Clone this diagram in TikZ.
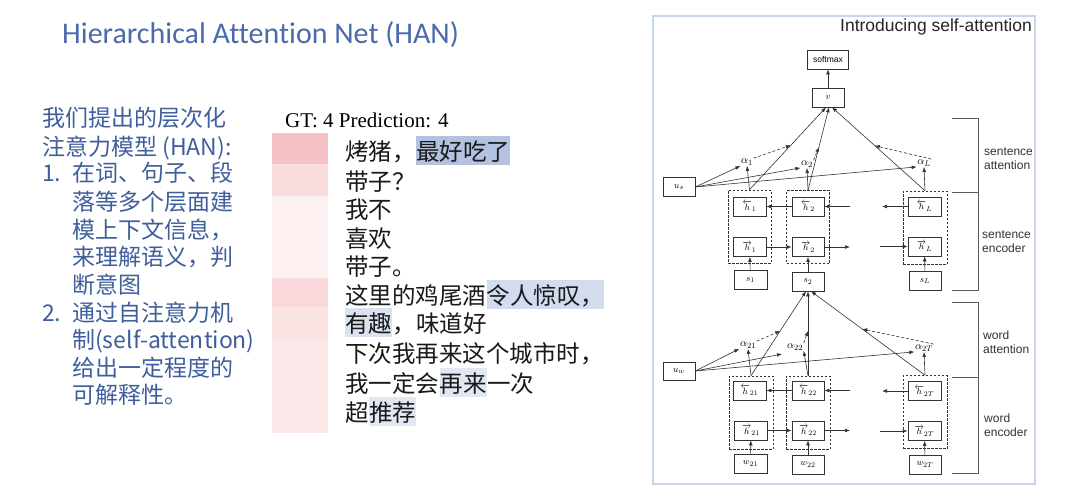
\documentclass[tikz,border=0pt]{standalone}
\usepackage{fontspec}
\setmainfont{Liberation Serif}
\newfontfamily\cjk{Noto Sans CJK SC}
\newfontfamily\carl[Ligatures=CommonOff]{Carlito}
\newfontfamily\lsans{Liberation Sans}
\usetikzlibrary{arrows.meta,calc}
\definecolor{dg}{HTML}{333333}
\definecolor{frm}{HTML}{C8D6EC}
\definecolor{tb}{HTML}{3F5E9C}
\definecolor{ttl}{HTML}{4A6AAA}
\definecolor{barA}{HTML}{F4C2C4}
\definecolor{barB}{HTML}{F9DCDD}
\definecolor{barC}{HTML}{FDF0F0}
\definecolor{barD}{HTML}{F8D8DA}
\definecolor{barE}{HTML}{FAE2E2}
\definecolor{barF}{HTML}{FBE7E7}
\definecolor{hlA}{HTML}{B3C2E0}
\definecolor{hlB}{HTML}{D3DBEF}
\definecolor{hlC}{HTML}{DAE1F1}
\definecolor{hlD}{HTML}{E2E7F4}
\begin{document}
\begin{tikzpicture}[x=1pt,y=-1pt,
  bx/.style={draw=dg, line width=0.6pt, minimum width=32pt, minimum height=19pt, inner sep=0pt, font=\fontsize{9.5}{10}\selectfont},
  grp/.style={draw=dg, dash pattern=on 2.5pt off 1.5pt, line width=0.6pt, minimum width=43pt, minimum height=73pt, inner sep=0pt},
  al/.style={inner sep=0.5pt, font=\fontsize{11}{12}\selectfont},
  arr/.style={draw=dg, line width=0.6pt, -{Latex[length=5pt,width=3.8pt]}},
  darr/.style={arr, dash pattern=on 3pt off 2pt},
  brk/.style={draw=black!65, line width=0.8pt},
  lab/.style={anchor=west, align=left, inner sep=0pt, font=\lsans\fontsize{12}{14}\selectfont, text=black!80},
  lt/.style={anchor=base west, inner sep=0pt, text=tb, font=\cjk\fontsize{23}{23}\selectfont},
  txt/.style={anchor=base west, inner sep=0pt, text=black!90, font=\cjk\fontsize{23.5}{24}\selectfont},
  hl/.style={txt, fill=#1, text height=23pt, text depth=4pt, inner ysep=1pt}
]
\useasboundingbox (0,0) rectangle (1080,501);
\fill[white] (0,0) rectangle (1080,501);

% title
\node[anchor=base west, inner sep=0pt, text=ttl, font=\carl\fontsize{30}{30}\selectfont] (title) at (62,43) {Hierarchical Attention Net (HAN)};

% left text
\node[lt] (l1) at (42,126.7) {我们提出的层次化};
\node[lt] (l2) at (42,155.7) {注意力模型 (HAN):};
\node[lt] (n1) at (42,181.7) {1.};
\node[lt] (l3) at (72,181.7) {在词、句子、段};
\node[lt] (l4) at (72,210.7) {落等多个层面建};
\node[lt] (l5) at (72,238.7) {模上下文信息，};
\node[lt] (l6) at (72,265.7) {来理解语义，判};
\node[lt] (l7) at (72,293.7) {断意图};
\node[lt] (n2) at (42,321.7) {2.};
\node[lt] (l8) at (72,321.7) {通过自注意力机};
\node[lt] (l9) at (72,348.7) {制(self-attention)};
\node[lt] (l10) at (72,376.7) {给出一定程度的};
\node[lt] (l11) at (72,403.7) {可解释性。};

% middle
\node[anchor=base west, inner sep=0pt, font=\fontsize{21}{21}\selectfont] (gt) at (285,127) {GT: 4 Prediction: 4};
\fill[barA] (272,133) rectangle (328,164);
\fill[barB] (272,164) rectangle (328,196);
\fill[barC] (272,196) rectangle (328,278);
\fill[barD] (272,278) rectangle (328,307);
\fill[barE] (272,307) rectangle (328,340);
\fill[barF] (272,340) rectangle (328,433);

\node[txt] (r1a) at (345,160) {烤猪，};
\node[hl=hlA] (r1b) at (r1a.base east) {最好吃了};
\node[txt] (r2) at (345,190) {带子？};
\node[txt] (r3) at (345,218) {我不};
\node[txt] (r4) at (345,247) {喜欢};
\node[txt] (r5) at (345,275) {带子。};
\node[txt] (r6a) at (345,304) {这里的鸡尾酒};
\node[hl=hlB] (r6b) at (r6a.base east) {令人惊叹，};
\node[hl=hlC] (r7a) at (345,332) {有趣};
\node[txt] (r7b) at (r7a.base east) {，味道好};
\node[txt] (r8) at (345,362) {下次我再来这个城市时，};
\node[txt] (r9a) at (345,392) {我一定会};
\node[hl=hlD] (r9b) at (r9a.base east) {再来};
\node[txt] (r9c) at (r9b.base east) {一次};
\node[txt] (r10a) at (345,421) {超};
\node[hl=hlD] (r10b) at (r10a.base east) {推荐};

% right panel frame
\draw[frm, line width=1.3pt] (653,16) rectangle (1035,484);
\node[anchor=base east, inner sep=0pt, font=\lsans\fontsize{17.5}{18}\selectfont, text=black!85] (intro) at (1032,31) {Introducing self-attention};

% ---- sentence level
\node[bx, minimum width=41pt, font=\lsans\fontsize{8.5}{9}\selectfont] (sm) at (828,59.5) {softmax};
\node[bx] (v) at (828,97.5) {$v$};
\node[bx] (us) at (679,187) {$u_s$};
\node[grp] (g1) at (749.5,226.5) {};
\node[grp] (g2) at (808,227) {};
\node[grp, minimum width=44pt] (gL) at (925,227.5) {};
\node[bx, minimum width=33pt] (hb1) at (749.5,206.5) {$\overleftarrow{h}_1$};
\node[bx, minimum width=33pt] (hf1) at (749.5,247) {$\overrightarrow{h}_1$};
\node[bx] (hb2) at (808,206.5) {$\overleftarrow{h}_2$};
\node[bx] (hf2) at (808,247) {$\overrightarrow{h}_2$};
\node[bx, minimum width=33pt] (hbL) at (924.5,206.5) {$\overleftarrow{h}_L$};
\node[bx, minimum width=33pt] (hfL) at (924.5,246.5) {$\overrightarrow{h}_L$};
\node[bx, minimum width=33pt] (s1) at (750.5,280) {$s_1$};
\node[bx] (s2) at (808,281.5) {$s_2$};
\node[bx] (sL) at (925,281) {$s_L$};
\node[al] (a1) at (747,162) {$\alpha_1$};
\node[al] (a2) at (807,164) {$\alpha_2$};
\node[al] (aL) at (924,163) {$\alpha_L$};

\coordinate (rb2) at (850,206.5);
\coordinate (lbL) at (882,206.5);
\coordinate (rf2) at (850,247);
\coordinate (lfL) at (880,246.5);

\draw[arr] (v) -- (sm);
\draw[arr] (g1.north) -- ([xshift=-2pt]v.south);
\draw[arr] (g2.north) -- ([xshift=1pt]v.south);
\draw[arr] (gL.north) -- ([xshift=4pt]v.south);
\coordinate (m1) at ($(g1.north)!0.54!([xshift=-2pt]v.south)$);
\coordinate (m2) at ($(g2.north)!0.52!([xshift=1pt]v.south)$);
\coordinate (mL) at ($(gL.north)!0.54!([xshift=4pt]v.south)$);
\draw[darr] (a1.north east) -- (m1);
\draw[darr] (a2.north east) -- (m2);
\draw[darr] (aL.north east) -- (mL);
\draw[arr] (g1.north) -- (a1.south);
\draw[arr] (g2.north) -- (a2.south);
\draw[arr] (gL.north) -- (aL.south);
\draw[arr] (us.east) -- (a1.south west);
\draw[arr] (us.east) -- (a2.south west);
\draw[arr] (us.east) -- (aL.south west);
\draw[arr] (hb2) -- (hb1);
\draw[arr] (rb2) -- (hb2);
\draw[arr] (hbL) -- (lbL);
\draw[arr] (hf1) -- (hf2);
\draw[arr] (hf2) -- (rf2);
\draw[arr] (lfL) -- (hfL);
\draw[arr] (s1) -- (hf1);
\draw[arr] (s2) -- (hf2);
\draw[arr] (sL) -- (hfL);

% ---- word level
\node[bx, minimum height=18pt] (uw) at (679,371) {$u_w$};
\node[grp, minimum width=44pt] (gw1) at (751,412.5) {};
\node[grp, minimum width=44pt] (gw2) at (808,412.5) {};
\node[grp, minimum width=44pt] (gwT) at (925,412) {};
\node[bx, minimum width=33pt] (hb21) at (749.5,390.5) {$\overleftarrow{h}_{21}$};
\node[bx, minimum width=33pt] (hf21) at (751,430.5) {$\overrightarrow{h}_{21}$};
\node[bx] (hb22) at (808,390.5) {$\overleftarrow{h}_{22}$};
\node[bx] (hf22) at (808,430.5) {$\overrightarrow{h}_{22}$};
\node[bx, minimum width=33pt] (hb2T) at (924.5,391) {$\overleftarrow{h}_{2T}$};
\node[bx, minimum width=33pt] (hf2T) at (924.5,431) {$\overrightarrow{h}_{2T}$};
\node[bx, minimum width=33pt] (w21) at (750.5,463.5) {$w_{21}$};
\node[bx] (w22) at (808,464.5) {$w_{22}$};
\node[bx] (w2T) at (925,464.5) {$w_{2T}$};
\node[al] (aw1) at (748,345) {$\alpha_{21}$};
\node[al] (aw2) at (795,347) {$\alpha_{22}$};
\node[al] (awT) at (924,348) {$\alpha_{2T}$};

\coordinate (ux) at (782,354);
\coordinate (rb22) at (850,390.5);
\coordinate (lb2T) at (882,391);
\coordinate (rf22) at (850,430.5);
\coordinate (lf2T) at (880,431);

\draw[arr] (gw1.north) -- ([xshift=-2pt]s2.south);
\draw[arr] (gw2.north) -- (s2.south);
\draw[arr] (gwT.north) -- ([xshift=3pt]s2.south);
\coordinate (mw1) at ($(gw1.north)!0.53!([xshift=-2pt]s2.south)$);
\coordinate (mw2) at ($(gw2.north)!0.53!(s2.south)$);
\coordinate (mwT) at ($(gwT.north)!0.55!([xshift=3pt]s2.south)$);
\draw[darr] (aw1.north east) -- (mw1);
\draw[darr] (aw2.north east) -- (mw2);
\draw[darr] (awT.north east) -- (mwT);
\draw[arr] (gw1.north) -- (aw1.south);
\draw[arr] (gw2.north) -- (aw2.south east);
\draw[arr] (gwT.north) -- (awT.south);
\draw[arr] (uw.east) -- (aw1.south west);
\draw[arr] (uw.east) -- (ux);
\draw[arr] (uw.east) -- (awT.south west);
\draw[arr] (hb22) -- (hb21);
\draw[arr] (rb22) -- (hb22);
\draw[arr] (hb2T) -- (lb2T);
\draw[arr] (hf21) -- (hf22);
\draw[arr] (hf22) -- (rf22);
\draw[arr] (lf2T) -- (hf2T);
\draw[arr] (w21) -- (hf21);
\draw[arr] (w22) -- (hf22);
\draw[arr] (w2T) -- (hf2T);

% brackets
\draw[brk] (952,118) -- (978,118) -- (978,290) -- (952,290);
\draw[brk] (952,192) -- (978,192);
\draw[brk] (952,302) -- (978,302) -- (978,473) -- (952,473);
\draw[brk] (952,377) -- (978,377);
\node[lab] (bs1) at (984,158.5) {sentence\\attention};
\node[lab] (bs2) at (982,242) {sentence\\encoder};
\node[lab] (bw1) at (983,342) {word\\attention};
\node[lab] (bw2) at (984,425.5) {word\\encoder};
\end{tikzpicture}
\end{document}
